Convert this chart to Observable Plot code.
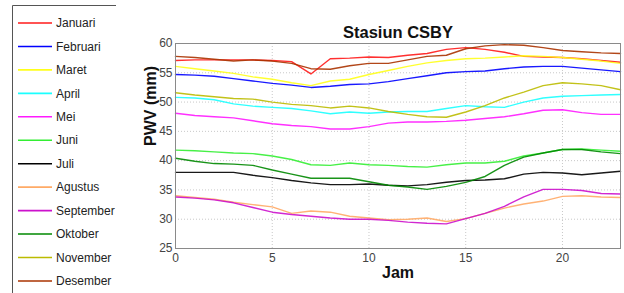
<!DOCTYPE html>
<html>
<head>
<meta charset="utf-8">
<script src="https://cdn.jsdelivr.net/npm/d3@7"></script>
<script src="https://cdn.jsdelivr.net/npm/@observablehq/plot@0.6"></script>
<style>
  html, body { margin: 0; padding: 0; background: #fff; }
  #chart { position: relative; width: 624px; height: 293px; }
  svg { font-family: "Liberation Sans", Arial, sans-serif; }
</style>
</head>
<body>
<div id="chart"></div>
<script>
const hours = d3.range(0, 24);
const months = ["Januari","Februari","Maret","April","Mei","Juni","Juli","Agustus","September","Oktober","November","Desember"];
const colors = ["#ff1a1a","#0000ff","#ffff1a","#1affff","#ff1aff","#33ee33","#000000","#ffaa66","#cc11cc","#008800","#bbbb00","#aa3300"];

const januari   = [57.1,57.2,57.2,57.2,57.2,57.1,56.9,54.8,57.4,57.5,57.7,57.6,58.0,58.3,59.0,59.3,59.0,58.5,57.8,57.7,57.6,57.4,57.1,56.8];
const februari  = [54.7,54.6,54.4,54.0,53.6,53.2,52.9,52.5,52.7,53.0,53.1,53.5,54.0,54.5,55.0,55.2,55.3,55.7,56.0,56.1,56.1,55.8,55.5,55.2];
const maret     = [56.1,55.7,55.3,54.9,54.3,53.9,53.3,52.8,53.6,53.9,54.7,55.4,56.1,56.7,57.1,57.4,57.5,57.7,57.9,57.8,57.6,57.3,57.0,56.6];
const april     = [50.8,50.7,50.4,49.7,49.3,49.1,48.9,48.5,48.0,48.3,48.1,48.3,48.4,48.4,48.9,49.4,49.2,49.1,50.0,50.7,51.0,51.1,51.2,51.3];
const mei       = [48.1,47.7,47.5,47.3,46.8,46.3,46.0,45.8,45.4,45.4,45.8,46.4,46.6,46.6,46.7,46.9,47.2,47.5,48.0,48.6,48.7,48.2,47.9,47.9];
const juni      = [41.8,41.7,41.5,41.3,41.2,40.8,40.2,39.3,39.2,39.6,39.3,39.2,39.0,38.9,39.3,39.6,39.6,39.9,40.8,41.3,41.9,42.0,41.8,41.6];
const juli      = [38.0,38.0,38.0,38.0,37.5,37.1,36.6,36.2,35.9,35.9,36.0,35.8,35.7,35.9,36.3,36.6,36.7,36.9,37.7,38.0,37.9,37.6,37.9,38.2];
const agustus   = [34.0,33.7,33.4,32.9,32.5,32.1,31.0,31.4,31.2,30.5,30.2,29.9,30.0,30.2,29.6,30.1,31.0,31.9,32.6,33.1,33.9,34.0,33.8,33.7];
const september = [33.8,33.6,33.3,32.8,32.0,31.2,30.8,30.5,30.2,30.0,30.0,29.8,29.5,29.3,29.2,30.1,31.0,32.2,33.8,35.1,35.1,34.9,34.4,34.3];
const oktober   = [40.4,39.9,39.5,39.4,39.2,38.4,37.7,37.0,37.0,37.0,36.4,35.8,35.5,35.1,35.6,36.3,37.3,39.2,40.6,41.3,41.9,41.9,41.5,41.2];
const november  = [51.6,51.2,50.9,50.6,50.5,50.0,49.6,49.4,49.0,49.3,49.0,48.4,47.9,47.5,47.4,48.3,49.4,50.7,51.7,52.8,53.3,53.1,52.8,52.1];
const desember  = [57.8,57.6,57.3,57.0,57.2,57.0,56.6,55.7,55.6,56.2,56.6,56.6,57.2,57.8,58.0,59.1,59.6,59.8,59.7,59.3,58.8,58.6,58.4,58.3];

const series = [januari,februari,maret,april,mei,juni,juli,agustus,september,oktober,november,desember];
const xTicks = [0,5,10,15,20];
const yTicks = [25,30,35,40,45,50,55,60];

const data = [];
series.forEach((vals, i) => vals.forEach((v, j) => data.push({month: months[i], jam: hours[j], pwv: v})));

const legendData = months.map((m, i) => ({month: m, row: i}));

const W = 624, H = 293;
const plot = Plot.plot({
  width: W,
  height: H,
  marginLeft: 175,
  marginRight: 4,
  marginTop: 43,
  marginBottom: 45,
  style: {fontFamily: "'Liberation Sans', Arial, sans-serif", background: "#fff"},
  x: {domain: [0, 23], ticks: xTicks, label: null},
  y: {domain: [25, 60], ticks: yTicks, label: null},
  color: {domain: months, range: colors},
  marks: [
    Plot.gridX(xTicks.slice(1), {stroke: "#c8c8c8", strokeOpacity: 1, strokeDasharray: "1,2"}),
    Plot.gridY(yTicks.slice(1, -1), {stroke: "#c8c8c8", strokeOpacity: 1, strokeDasharray: "1,2"}),
    Plot.line(data, {x: "jam", y: "pwv", z: "month", stroke: "month", strokeWidth: 1.4, strokeOpacity: 0.9}),
    Plot.frame({stroke: "#8a8a8a", strokeWidth: 1}),
    Plot.axisX({ticks: xTicks, tickSize: 0, tickPadding: 5, fontSize: 12, fill: "#444"}),
    Plot.axisY({ticks: yTicks, tickSize: 0, tickPadding: 3, fontSize: 12, fill: "#444"}),
    Plot.text(["Stasiun CSBY"], {frameAnchor: "top", dy: -17, fontSize: 16.5, fontWeight: "bold", fill: "#111"}),
    Plot.text(["Jam"], {frameAnchor: "bottom", dy: 29, fontSize: 16, fontWeight: "bold", fill: "#111"}),
    Plot.text(["PWV (mm)"], {frameAnchor: "left", dx: -25, rotate: -90, fontSize: 16, fontWeight: "bold", fill: "#111"})
  ]
});
document.getElementById("chart").appendChild(plot);

// Legend (drawn into the same SVG)
const svg = d3.select(plot);
const lg = svg.append("g").attr("class", "legend").attr("text-anchor", "start");
lg.append("line").attr("x1", 12.5).attr("x2", 12.5).attr("y1", 5.5).attr("y2", H).attr("stroke", "#555").attr("stroke-width", 1);
lg.append("line").attr("x1", 12.5).attr("x2", 116).attr("y1", 5.5).attr("y2", 5.5).attr("stroke", "#555").attr("stroke-width", 1);
const rows = lg.selectAll("g.row").data(legendData).join("g")
  .attr("transform", d => `translate(0, ${23 + d.row * 23.45})`);
rows.append("line").attr("x1", 18).attr("x2", 52).attr("y1", 0).attr("y2", 0)
  .attr("stroke", d => colors[d.row]).attr("stroke-width", 1.6);
rows.append("text").attr("x", 56).attr("y", 0).attr("dy", "0.35em")
  .attr("text-anchor", "start")
  .attr("font-size", 12).attr("fill", "#222").text(d => d.month);
</script>
</body>
</html>
